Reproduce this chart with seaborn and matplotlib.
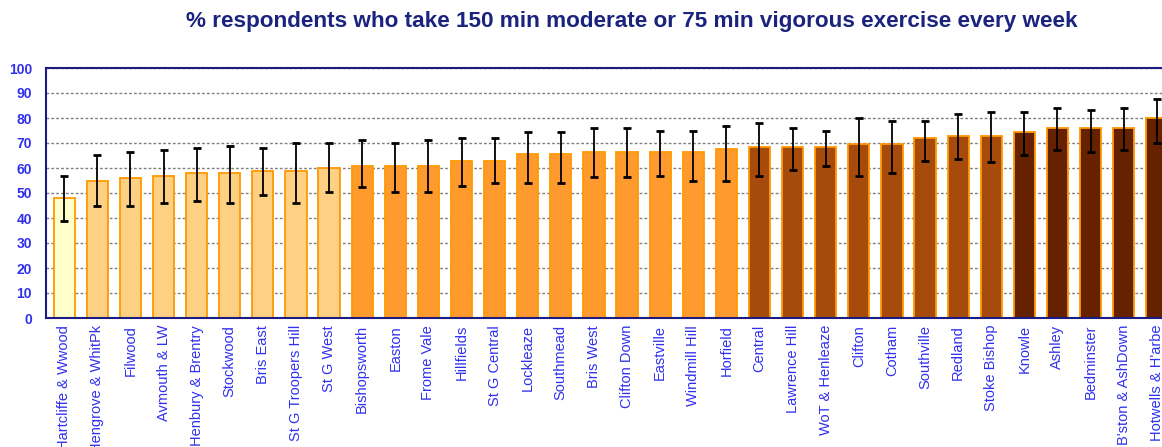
import numpy as np
import pandas as pd
import matplotlib
matplotlib.use("Agg")
import matplotlib.pyplot as plt
import seaborn as sns

# Ward values (% meeting exercise guideline) with confidence limits
wards = ["Hartcliffe & Wwood", "Hengrove & WhitPk", "Filwood", "Avmouth & LW",
         "Henbury & Brentry", "Stockwood", "Bris East", "St G Troopers Hill",
         "St G West", "Bishopsworth", "Easton", "Frome Vale", "Hillfields",
         "St G Central", "Lockleaze", "Southmead", "Bris West", "Clifton Down",
         "Eastville", "Windmill Hill", "Horfield", "Central", "Lawrence Hill",
         "WoT & Henleaze", "Clifton", "Cotham", "Southville", "Redland",
         "Stoke Bishop", "Knowle", "Ashley", "Bedminster", "B'ston & AshDown",
         "Hotwells & H'arbe"]
pct = [48, 55, 56, 57, 58, 58, 59, 59, 60, 61, 61, 61, 63, 63, 65.5, 65.5, 66.5,
       66.5, 66.5, 66.5, 67.5, 68.3, 68.3, 68.3, 69.5, 69.5, 72, 73, 73, 74.3,
       76, 76, 76, 80]
lower = [38.7, 45, 45, 46, 47, 46, 49.3, 46, 50.3, 52.3, 50.3, 50.3, 53, 54, 54,
         54, 56.3, 56.3, 57, 54.7, 54.7, 57, 59.2, 61, 57, 58, 63, 63.7, 62.3,
         65.3, 67.2, 66.3, 67.2, 70]
upper = [57, 65.3, 66.3, 67.2, 68.1, 69, 68.1, 70, 70, 71.2, 70, 71.2, 72, 72,
         74.3, 74.3, 76, 76, 75, 75, 77, 78, 76, 75, 80, 79, 79, 81.5, 82.3, 82.3,
         84, 83.2, 84, 87.5]
band = ["q1"] + ["q2"] * 8 + ["q3"] * 12 + ["q4"] * 8 + ["q5"] * 5
band_colors = {"q1": "#FFFFCC", "q2": "#FDD084", "q3": "#FF9A2E",
               "q4": "#A64B0C", "q5": "#662200"}

df = pd.DataFrame({"ward": wards, "pct": pct, "lower": lower,
                   "upper": upper, "band": band})

sns.set_style("white")
plt.rcParams["font.family"] = ["Liberation Sans", "DejaVu Sans"]

fig = plt.figure(figsize=(11.62, 4.47), dpi=100)
ax = fig.add_axes([46 / 1162, 1 - 318 / 447, 1129 / 1162, 250 / 447])

sns.barplot(data=df, x="ward", y="pct", hue="band", palette=band_colors,
            dodge=False, width=0.64, saturation=1, edgecolor="#FF9900",
            linewidth=1.3, legend=False, ax=ax, zorder=2)

x = np.arange(len(df))
yerr = np.vstack([df["pct"] - df["lower"], df["upper"] - df["pct"]])
ax.errorbar(x, df["pct"], yerr=yerr, fmt="none", ecolor="black",
            elinewidth=1.3, capsize=3, capthick=2, zorder=3)

ax.set_xlim(-0.55, len(df) - 0.45)
ax.set_ylim(0, 100)
ax.set_yticks(range(0, 101, 10))
ax.yaxis.grid(True, color="#808080", linestyle=(0, (2, 1.5)), linewidth=1.0, zorder=0)
ax.set_axisbelow(True)

navy = "#1C1C80"
for side in ["left", "bottom", "top", "right"]:
    ax.spines[side].set_color(navy)
    ax.spines[side].set_linewidth(1.5)

ax.tick_params(axis="y", colors=navy, labelcolor="#3030F0", length=3,
               direction="out", labelsize=10, pad=7)
ax.tick_params(axis="x", colors=navy, labelcolor="#3030F0", length=3,
               direction="out", labelsize=10.5, pad=2)
for lab in ax.get_yticklabels():
    lab.set_fontweight("bold")
ax.set_xticks(x)
ax.set_xticklabels(wards, rotation=90, va="top", ha="center")
ax.set_xlabel("")
ax.set_ylabel("")

fig.text(632 / 1162, 1 - 22 / 447,
         "% respondents who take 150 min moderate or 75 min vigorous exercise every week",
         ha="center", va="center", fontsize=16.2, fontweight="bold", color="#1A237E")

fig.savefig("out.png", dpi=100)
